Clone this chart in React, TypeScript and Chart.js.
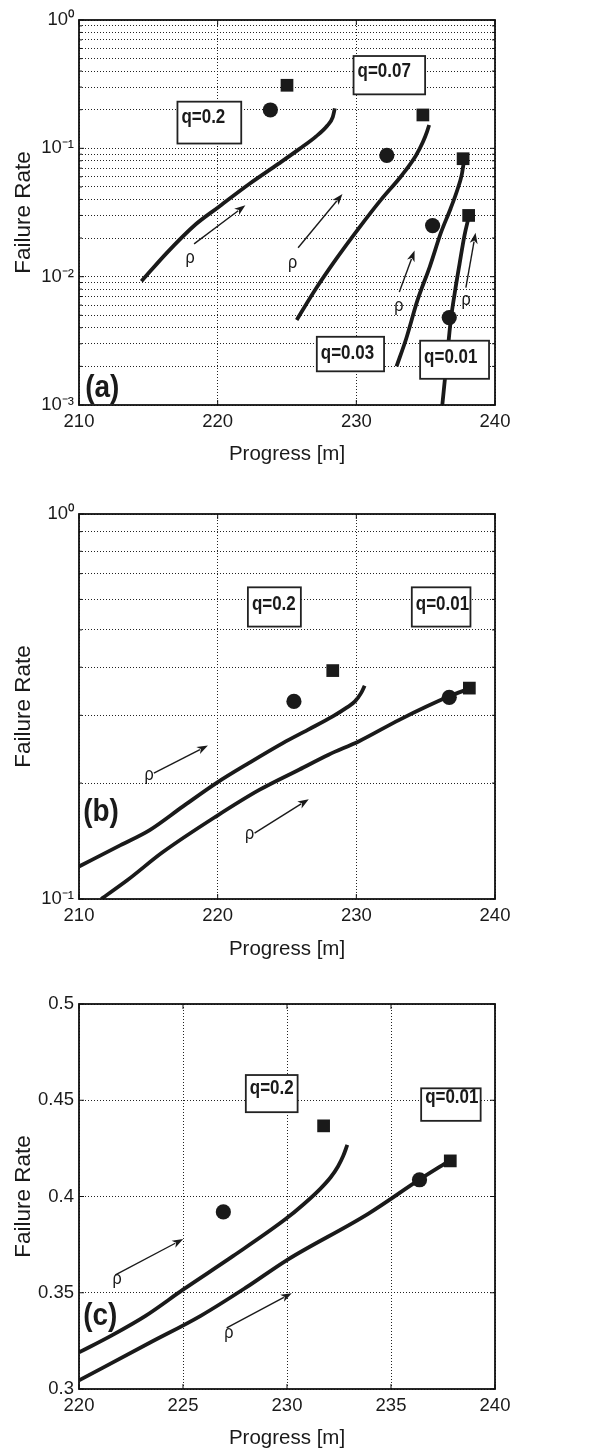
import { useEffect, useRef } from 'react';
import { Chart, registerables } from 'chart.js';

Chart.register(...registerables);

const FONT = '"Liberation Sans", Arial, Helvetica, sans-serif';
const INK = '#1a1a1a';

// ---------------- Panel (a) data ----------------
const A_X_TICKS = [210, 220, 230, 240];
const A_X_LABELS = ['210', '220', '230', '240'];
const A_Y_TICKS = [0.001, 0.01, 0.1, 1];
const A_Y_LABELS = ['10\u207B\u00B3', '10\u207B\u00B2', '10\u207B\u00B9', '10\u2070'];

const A_Q020_X = [214.5, 216.3, 218.4, 220.0, 222.3, 224.4, 225.9, 227.1, 227.9, 228.3, 228.45];
const A_Q020_Y = [0.0092, 0.0152, 0.0255, 0.0345, 0.053, 0.076, 0.099, 0.124, 0.15, 0.175, 0.205];
const A_Q007_X = [225.7, 227.0, 228.5, 230.2, 231.8, 233.3, 234.3, 234.8, 235.1, 235.25];
const A_Q007_Y = [0.0046, 0.0078, 0.0135, 0.024, 0.04, 0.062, 0.088, 0.112, 0.135, 0.152];
const A_Q003_X = [232.9, 233.6, 234.4, 235.3, 236.1, 236.8, 237.3, 237.6, 237.75];
const A_Q003_Y = [0.002, 0.0033, 0.0065, 0.012, 0.022, 0.034, 0.048, 0.062, 0.078];
const A_Q001_X = [236.2, 236.5, 236.8, 237.1, 237.45, 237.8, 238.1];
const A_Q001_Y = [0.001, 0.0021, 0.0045, 0.0075, 0.0127, 0.021, 0.029];

const A_CIRCLE_X = [223.8, 232.2, 235.5, 236.7];
const A_CIRCLE_Y = [0.199, 0.088, 0.025, 0.0048];
const A_SQUARE_X = [225.0, 234.8, 237.7, 238.1];
const A_SQUARE_Y = [0.31, 0.182, 0.083, 0.03];

const A_ARROWS = [
  [218.3, 0.018, 222.0, 0.036],
  [225.8, 0.0168, 229.0, 0.044],
  [233.1, 0.0076, 234.2, 0.016],
  [237.9, 0.0082, 238.6, 0.022],
];
const A_RHO = [
  [218.0, 0.0134],
  [225.4, 0.0124],
  [233.05, 0.0057],
  [237.9, 0.0064],
];
const A_BOX_TEXT = ['q=0.2', 'q=0.07', 'q=0.03', 'q=0.01'];
const A_BOX_X = [[217.1, 221.7], [229.8, 234.96], [227.15, 232.0], [234.6, 239.57]];
const A_BOX_Y = [[0.231, 0.109], [0.524, 0.2634], [0.0034, 0.00183], [0.00317, 0.0016]];

// ---------------- Panel (b) data ----------------
const B_X_TICKS = [210, 220, 230, 240];
const B_X_LABELS = ['210', '220', '230', '240'];
const B_Y_TICKS = [0.1, 1];
const B_Y_LABELS = ['10\u207B\u00B9', '10\u2070'];

const B_Q020_X = [210.0, 213.0, 215.1, 217.5, 219.9, 222.3, 224.7, 226.5, 228.3, 229.3, 229.9, 230.35, 230.6];
const B_Q020_Y = [0.1215, 0.138, 0.151, 0.174, 0.2, 0.226, 0.254, 0.275, 0.298, 0.314, 0.326, 0.343, 0.358];
const B_Q001_X = [211.6, 213.5, 216.0, 219.9, 223.0, 225.9, 228.0, 230.2, 233.1, 236.7, 238.15];
const B_Q001_Y = [0.1, 0.112, 0.132, 0.164, 0.192, 0.217, 0.237, 0.257, 0.292, 0.336, 0.352];

const B_CIRCLE_X = [225.5, 236.7];
const B_CIRCLE_Y = [0.326, 0.334];
const B_SQUARE_X = [228.3, 238.15];
const B_SQUARE_Y = [0.392, 0.353];

const B_ARROWS = [
  [215.4, 0.2124, 219.3, 0.2505],
  [222.66, 0.1483, 226.57, 0.1817],
];
const B_RHO = [
  [215.05, 0.2073],
  [222.3, 0.1455],
];
const B_BOX_TEXT = ['q=0.2', 'q=0.01'];
const B_BOX_X = [[222.18, 226.0], [234.0, 238.23]];
const B_BOX_Y = [[0.645, 0.51], [0.645, 0.51]];

// ---------------- Panel (c) data ----------------
const C_X_TICKS = [220, 225, 230, 235, 240];
const C_X_LABELS = ['220', '225', '230', '235', '240'];
const C_Y_TICKS = [0.3, 0.35, 0.4, 0.45, 0.5];
const C_Y_LABELS = ['0.3', '0.35', '0.4', '0.45', '0.5'];

const C_Q020_X = [220.0, 221.6, 223.2, 225.0, 227.4, 229.9, 230.8, 231.6, 232.1, 232.45, 232.7, 232.9];
const C_Q020_Y = [0.319, 0.328, 0.338, 0.3516, 0.369, 0.388, 0.396, 0.404, 0.41, 0.4156, 0.421, 0.4268];
const C_Q001_X = [220.0, 223.4, 225.85, 228.0, 230.0, 233.9, 236.4, 237.8];
const C_Q001_Y = [0.3045, 0.324, 0.338, 0.3525, 0.367, 0.391, 0.409, 0.4185];

const C_CIRCLE_X = [226.94, 236.37];
const C_CIRCLE_Y = [0.392, 0.4087];
const C_SQUARE_X = [231.76, 237.85];
const C_SQUARE_Y = [0.4367, 0.4185];

const C_ARROWS = [
  [221.75, 0.3593, 225.01, 0.3779],
  [227.1, 0.3317, 230.23, 0.3498],
];
const C_RHO = [
  [221.83, 0.356],
  [227.2, 0.3282],
];
const C_BOX_TEXT = ['q=0.2', 'q=0.01'];
const C_BOX_X = [[228.02, 230.51], [236.45, 239.31]];
const C_BOX_Y = [[0.4631, 0.4438], [0.4562, 0.4393]];

// ---------------- layout / style (not data) ----------------
const W = 605;
const H = 484;
const AREA_LEFT = 79;
const AREA_RIGHT = 495;

function logGrid(minExp: number, maxExp: number): number[] {
  const out: number[] = [];
  for (let e = minExp; e < maxExp; e++) {
    for (let m = 1; m < 10; m++) out.push(parseFloat((m * Math.pow(10, e)).toPrecision(4)));
  }
  out.push(Math.pow(10, maxExp));
  return out;
}

type Spec = {
  top: number;
  areaTop: number;
  areaBottom: number;
  xTitlePad: number;
  xMin: number;
  xMax: number;
  xTicks: number[];
  xLabels: string[];
  yType: 'linear' | 'logarithmic';
  yMin: number;
  yMax: number;
  yGrid: number[];
  yTicks: number[];
  yLabels: string[];
  curves: [number[], number[]][];
  circles: [number[], number[]];
  squares: [number[], number[]];
  arrows: number[][];
  rho: number[][];
  boxText: string[];
  boxX: number[][];
  boxY: number[][];
  boxTextDy: number[];
  label: string;
  labelAt: [number, number];
};

const SPECS: Spec[] = [
  {
    top: 0, areaTop: 20, areaBottom: 405, xTitlePad: 17,
    xMin: 210, xMax: 240, xTicks: A_X_TICKS, xLabels: A_X_LABELS,
    yType: 'logarithmic', yMin: 0.001, yMax: 1, yGrid: logGrid(-3, 0), yTicks: A_Y_TICKS, yLabels: A_Y_LABELS,
    curves: [[A_Q020_X, A_Q020_Y], [A_Q007_X, A_Q007_Y], [A_Q003_X, A_Q003_Y], [A_Q001_X, A_Q001_Y]],
    circles: [A_CIRCLE_X, A_CIRCLE_Y], squares: [A_SQUARE_X, A_SQUARE_Y],
    arrows: A_ARROWS, rho: A_RHO, boxText: A_BOX_TEXT, boxX: A_BOX_X, boxY: A_BOX_Y, boxTextDy: [21, 21, 22, 22],
    label: '(a)', labelAt: [210.45, 0.00115],
  },
  {
    top: 484, areaTop: 30, areaBottom: 415, xTitlePad: 6,
    xMin: 210, xMax: 240, xTicks: B_X_TICKS, xLabels: B_X_LABELS,
    yType: 'logarithmic', yMin: 0.1, yMax: 1, yGrid: logGrid(-1, 0), yTicks: B_Y_TICKS, yLabels: B_Y_LABELS,
    curves: [[B_Q020_X, B_Q020_Y], [B_Q001_X, B_Q001_Y]],
    circles: [B_CIRCLE_X, B_CIRCLE_Y], squares: [B_SQUARE_X, B_SQUARE_Y],
    arrows: B_ARROWS, rho: B_RHO, boxText: B_BOX_TEXT, boxX: B_BOX_X, boxY: B_BOX_Y, boxTextDy: [23, 23],
    label: '(b)', labelAt: [210.3, 0.1597],
  },
  {
    top: 968, areaTop: 36, areaBottom: 421, xTitlePad: 1,
    xMin: 220, xMax: 240, xTicks: C_X_TICKS, xLabels: C_X_LABELS,
    yType: 'linear', yMin: 0.3, yMax: 0.5, yGrid: C_Y_TICKS, yTicks: C_Y_TICKS, yLabels: C_Y_LABELS,
    curves: [[C_Q020_X, C_Q020_Y], [C_Q001_X, C_Q001_Y]],
    circles: [C_CIRCLE_X, C_CIRCLE_Y], squares: [C_SQUARE_X, C_SQUARE_Y],
    arrows: C_ARROWS, rho: C_RHO, boxText: C_BOX_TEXT, boxX: C_BOX_X, boxY: C_BOX_Y, boxTextDy: [19, 15],
    label: '(c)', labelAt: [220.2, 0.3333],
  },
];

function labelFor(ticks: number[], labels: string[], v: number, log: boolean): string {
  for (let i = 0; i < ticks.length; i++) {
    const a = log ? Math.log10(ticks[i]) : ticks[i];
    const b = log ? Math.log10(v) : v;
    if (Math.abs(a - b) < 1e-6) return labels[i];
  }
  return '';
}

function drawArrow(ctx: CanvasRenderingContext2D, x0: number, y0: number, x1: number, y1: number) {
  const ang = Math.atan2(y1 - y0, x1 - x0);
  const L = 11;
  const Wd = 4;
  const bx = x1 - L * Math.cos(ang);
  const by = y1 - L * Math.sin(ang);
  ctx.beginPath();
  ctx.moveTo(x0, y0);
  ctx.lineTo(bx + 2 * Math.cos(ang), by + 2 * Math.sin(ang));
  ctx.stroke();
  ctx.beginPath();
  ctx.moveTo(x1, y1);
  ctx.lineTo(bx + Wd * Math.sin(ang), by - Wd * Math.cos(ang));
  ctx.lineTo(bx + 3 * Math.cos(ang), by + 3 * Math.sin(ang));
  ctx.lineTo(bx - Wd * Math.sin(ang), by + Wd * Math.cos(ang));
  ctx.closePath();
  ctx.fill();
}

function narrowText(ctx: CanvasRenderingContext2D, t: string, x: number, y: number, sx: number) {
  ctx.save();
  ctx.translate(x, y);
  ctx.scale(sx, 1);
  ctx.fillText(t, 0, 0);
  ctx.restore();
}

function makePlugin(spec: Spec) {
  return {
    id: 'annotations',
    afterDatasetsDraw(chart: any) {
      const ctx: CanvasRenderingContext2D = chart.ctx;
      const xs = chart.scales.x;
      const ys = chart.scales.y;
      const px = (v: number) => xs.getPixelForValue(v);
      const py = (v: number) => ys.getPixelForValue(v);
      ctx.save();
      // arrows
      ctx.strokeStyle = INK;
      ctx.fillStyle = INK;
      ctx.lineWidth = 1.4;
      spec.arrows.forEach((a) => drawArrow(ctx, px(a[0]), py(a[1]), px(a[2]), py(a[3])));
      // rho labels
      ctx.font = `18px ${FONT}`;
      ctx.textAlign = 'left';
      ctx.textBaseline = 'alphabetic';
      spec.rho.forEach((r) => narrowText(ctx, '\u03C1', px(r[0]) - 4.5, py(r[1]) + 3, 0.9));
      // text boxes
      ctx.font = `bold 19.5px ${FONT}`;
      spec.boxText.forEach((t, i) => {
        const x0 = px(spec.boxX[i][0]);
        const x1 = px(spec.boxX[i][1]);
        const y0 = py(spec.boxY[i][0]);
        const y1 = py(spec.boxY[i][1]);
        ctx.fillStyle = '#ffffff';
        ctx.fillRect(x0, y0, x1 - x0, y1 - y0);
        ctx.strokeStyle = '#222';
        ctx.lineWidth = 1.8;
        ctx.strokeRect(x0, y0, x1 - x0, y1 - y0);
        ctx.fillStyle = INK;
        narrowText(ctx, t, x0 + 4, y0 + spec.boxTextDy[i], 0.87);
      });
      // panel label
      ctx.font = `bold 31px ${FONT}`;
      ctx.fillStyle = INK;
      narrowText(ctx, spec.label, px(spec.labelAt[0]), py(spec.labelAt[1]), 0.9);
      ctx.restore();
    },
    afterDraw(chart: any) {
      const ctx: CanvasRenderingContext2D = chart.ctx;
      const { left, right, top, bottom } = chart.chartArea;
      const xs = chart.scales.x;
      const ys = chart.scales.y;
      const log = spec.yType === 'logarithmic';
      ctx.save();
      ctx.strokeStyle = '#111';
      ctx.lineWidth = 1;
      // inward tick marks
      ctx.beginPath();
      spec.xTicks.forEach((v) => {
        const x = xs.getPixelForValue(v);
        ctx.moveTo(x, bottom);
        ctx.lineTo(x, bottom - 5);
        ctx.moveTo(x, top);
        ctx.lineTo(x, top + 5);
      });
      spec.yGrid.forEach((v) => {
        const y = ys.getPixelForValue(v);
        const len = labelFor(spec.yTicks, spec.yLabels, v, log) ? 5 : 3;
        ctx.moveTo(left, y);
        ctx.lineTo(left + len, y);
        ctx.moveTo(right, y);
        ctx.lineTo(right - len, y);
      });
      ctx.stroke();
      ctx.lineWidth = 1.8;
      ctx.strokeRect(left, top, right - left, bottom - top);
      ctx.restore();
    },
  };
}

function Panel({ spec }: { spec: Spec }) {
  const ref = useRef<HTMLCanvasElement | null>(null);
  useEffect(() => {
    if (!ref.current) return;
    const log = spec.yType === 'logarithmic';
    const datasets: any[] = [];
    spec.curves.forEach(([cx, cy]) => {
      datasets.push({
        data: cx.map((x, i) => ({ x, y: cy[i] })),
        showLine: true,
        borderColor: INK,
        borderWidth: 3.8,
        pointRadius: 0,
        cubicInterpolationMode: 'monotone',
        borderCapStyle: 'butt',
      });
    });
    datasets.push({
      data: spec.circles[0].map((x, i) => ({ x, y: spec.circles[1][i] })),
      pointStyle: 'circle',
      pointRadius: 7.6,
      backgroundColor: INK,
      borderColor: INK,
      borderWidth: 0,
      showLine: false,
    });
    datasets.push({
      data: spec.squares[0].map((x, i) => ({ x, y: spec.squares[1][i] })),
      pointStyle: 'rect',
      pointRadius: 9,
      backgroundColor: INK,
      borderColor: INK,
      borderWidth: 0,
      showLine: false,
    });

    const chart = new Chart(ref.current, {
      type: 'scatter',
      data: { datasets },
      options: {
        animation: false,
        responsive: false,
        maintainAspectRatio: false,
        devicePixelRatio: 1,
        layout: { padding: { left: 0, right: W - AREA_RIGHT, top: spec.areaTop, bottom: 0 } },
        plugins: { legend: { display: false }, tooltip: { enabled: false } },
        scales: {
          x: {
            type: 'linear',
            position: 'bottom',
            min: spec.xMin,
            max: spec.xMax,
            afterBuildTicks: (s: any) => {
              s.ticks = spec.xTicks.map((v) => ({ value: v }));
            },
            afterFit: (s: any) => {
              s.height = H - spec.areaBottom;
            },
            ticks: {
              autoSkip: false,
              maxRotation: 0,
              padding: 6,
              color: INK,
              font: { size: 18.5, family: FONT },
              callback: (v: any) => labelFor(spec.xTicks, spec.xLabels, Number(v), false),
            },
            grid: { color: '#222', lineWidth: 1, drawTicks: false },
            border: { display: false, dash: [1, 2] },
            title: {
              display: true,
              text: 'Progress [m]',
              color: INK,
              font: { size: 20.5, family: FONT },
              padding: { top: 0, bottom: spec.xTitlePad },
            },
          },
          y: {
            type: spec.yType,
            position: 'left',
            min: spec.yMin,
            max: spec.yMax,
            afterBuildTicks: (s: any) => {
              s.ticks = spec.yGrid.map((v) => ({ value: v }));
            },
            afterFit: (s: any) => {
              s.width = AREA_LEFT;
            },
            ticks: {
              autoSkip: false,
              padding: 5,
              color: INK,
              font: { size: 18.5, family: FONT },
              callback: (v: any) => labelFor(spec.yTicks, spec.yLabels, Number(v), log),
            },
            grid: { color: '#222', lineWidth: 1, drawTicks: false },
            border: { display: false, dash: [1, 2] },
            title: {
              display: true,
              text: 'Failure Rate',
              color: INK,
              font: { size: 22.5, family: FONT },
              padding: { top: 10, bottom: 0 },
            },
          },
        },
      } as any,
      plugins: [makePlugin(spec)],
    });
    return () => chart.destroy();
  }, [spec]);
  return (
    <canvas
      ref={ref}
      width={W}
      height={H}
      style={{ position: 'absolute', left: 0, top: spec.top, width: W, height: H, display: 'block' }}
    />
  );
}

export default function App() {
  return (
    <div style={{ position: 'absolute', left: 0, top: 0, width: W, height: 3 * H, background: '#fff' }}>
      {SPECS.map((s, i) => (
        <Panel key={i} spec={s} />
      ))}
    </div>
  );
}
